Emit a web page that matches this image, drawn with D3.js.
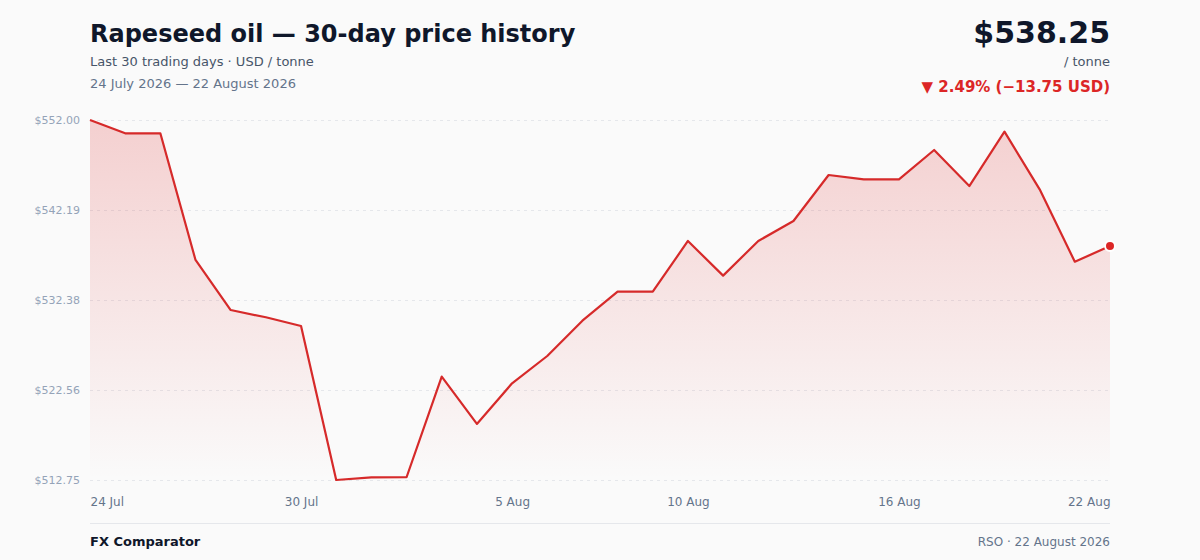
<!DOCTYPE html>
<html>
<head>
<meta charset="utf-8">
<script src="https://cdn.jsdelivr.net/npm/d3@7"></script>
<style>
    body { margin: 0; background: #fafafa; font-family: "DejaVu Sans", sans-serif; }
    svg { display: block; }
</style>
</head>
<body>
<svg id="chart"></svg>
<script>
// 30 calendar days, 24 Jul - 22 Aug 2026, USD / tonne
const startDate = new Date(2026, 6, 24);
const prices = [
    552.00, 550.55, 550.55, 536.74, 531.28, 530.49, 529.54, 512.75, 513.04, 513.05,
    524.02, 518.86, 523.29, 526.27, 530.12, 533.28, 533.28, 538.81, 535.03, 538.81,
    540.99, 546.00, 545.53, 545.53, 548.73, 544.80, 550.73, 544.44, 536.55, 538.25
];
const tickIndex = [0, 6, 12, 17, 23, 29];
const title = 'Rapeseed oil \u2014 30-day price history';
const subtitle = 'Last 30 trading days \u00b7 USD / tonne';
const rangeText = '24 July 2026 \u2014 22 August 2026';
const brand = 'FX Comparator';
const source = 'RSO \u00b7 22 August 2026';

const width = 1200, height = 560;
const margin = { top: 120, right: 90, bottom: 80, left: 90 };
const vizW = width - margin.left - margin.right;
const vizH = height - margin.top - margin.bottom;

const data = prices.map((p, i) => ({ date: d3.timeDay.offset(startDate, i), price: p }));
const first = prices[0], last = prices[prices.length - 1];
const diff = last - first;
const pct = diff / first * 100;

let svg = d3.select('#chart').attr('width', width).attr('height', height);

let x = d3.scaleTime()
    .domain(d3.extent(data, d => d.date))
    .range([margin.left, width - margin.right]);
let y = d3.scaleLinear()
    .domain([d3.min(prices), d3.max(prices)])
    .range([margin.top + vizH, margin.top]);

// header
svg.append('text').attr('x', 90).attr('y', 42)
    .attr('font-size', 24).attr('font-weight', 'bold').attr('fill', '#0f172a')
    .text(title);
svg.append('text').attr('x', 90).attr('y', 66)
    .attr('font-size', 13).attr('fill', '#475569').text(subtitle);
svg.append('text').attr('x', 90).attr('y', 88)
    .attr('font-size', 13).attr('fill', '#64748b').text(rangeText);

svg.append('text').attr('x', 1110).attr('y', 43).attr('text-anchor', 'end')
    .attr('font-size', 30).attr('font-weight', 'bold').attr('fill', '#0f172a')
    .text('$' + last.toFixed(2));
svg.append('text').attr('x', 1110).attr('y', 66).attr('text-anchor', 'end')
    .attr('font-size', 13).attr('fill', '#475569').text('/ tonne');
svg.append('text').attr('x', 1110).attr('y', 92).attr('text-anchor', 'end')
    .attr('font-size', 15).attr('font-weight', 'bold').attr('fill', '#dc2626')
    .text('\u25bc ' + Math.abs(pct).toFixed(2) + '% (\u2212' + Math.abs(diff).toFixed(2) + ' USD)');

// gradient under the line
let defs = svg.append('defs');
let grad = defs.append('linearGradient').attr('id', 'fillGrad')
    .attr('x1', 0).attr('y1', 0).attr('x2', 0).attr('y2', 1);
grad.append('stop').attr('offset', '0%').attr('stop-color', '#dc2626').attr('stop-opacity', 0.2);
grad.append('stop').attr('offset', '100%').attr('stop-color', '#dc2626').attr('stop-opacity', 0.0);

// y grid + labels
let yTicks = d3.range(5).map(i => y.domain()[0] + i * (y.domain()[1] - y.domain()[0]) / 4);
let yAxis = svg.append('g')
    .attr('transform', 'translate(' + margin.left + ',0)')
    .call(d3.axisLeft(y).tickValues(yTicks).tickSize(-vizW).tickPadding(10)
        .tickFormat(d => '$' + d.toFixed(2)));
yAxis.select('.domain').remove();
yAxis.selectAll('line').attr('stroke', '#e5e7eb').attr('stroke-dasharray', '3,4');
yAxis.selectAll('text').attr('font-size', 11).attr('fill', '#94a3b8')
    .attr('font-family', '"DejaVu Sans", sans-serif');

// area + line
svg.append('path')
    .datum(data)
    .attr('fill', 'url(#fillGrad)')
    .attr('d', d3.area()
        .x(d => x(d.date))
        .y0(margin.top + vizH)
        .y1(d => y(d.price)));
svg.append('path')
    .datum(data)
    .attr('fill', 'none')
    .attr('stroke', '#d62a2a')
    .attr('stroke-width', 2.2)
    .attr('stroke-linejoin', 'round')
    .attr('d', d3.line().x(d => x(d.date)).y(d => y(d.price)));

svg.append('circle')
    .attr('cx', x(data[data.length - 1].date))
    .attr('cy', y(last))
    .attr('r', 5)
    .attr('fill', '#dc2626')
    .attr('stroke', '#ffffff')
    .attr('stroke-width', 2);

// x axis labels
let fmt = d3.timeFormat('%-d %b');
let xAxis = svg.append('g')
    .attr('transform', 'translate(0,' + (margin.top + vizH) + ')')
    .call(d3.axisBottom(x).tickValues(tickIndex.map(i => data[i].date))
        .tickSize(0).tickPadding(17).tickFormat(fmt));
xAxis.select('.domain').remove();
xAxis.selectAll('text')
    .attr('font-size', 12).attr('fill', '#64748b')
    .attr('font-family', '"DejaVu Sans", sans-serif')
    .attr('text-anchor', (d, i) => i === 0 ? 'start' : (i === tickIndex.length - 1 ? 'end' : 'middle'));

// footer
svg.append('line').attr('x1', 90).attr('x2', 1110).attr('y1', 523.5).attr('y2', 523.5)
    .attr('stroke', '#e5e7eb').attr('stroke-width', 1);
svg.append('text').attr('x', 90).attr('y', 546)
    .attr('font-size', 13).attr('font-weight', 'bold').attr('fill', '#0f172a').text(brand);
svg.append('text').attr('x', 1110).attr('y', 546).attr('text-anchor', 'end')
    .attr('font-size', 12).attr('fill', '#64748b').text(source);
</script>
</body>
</html>
